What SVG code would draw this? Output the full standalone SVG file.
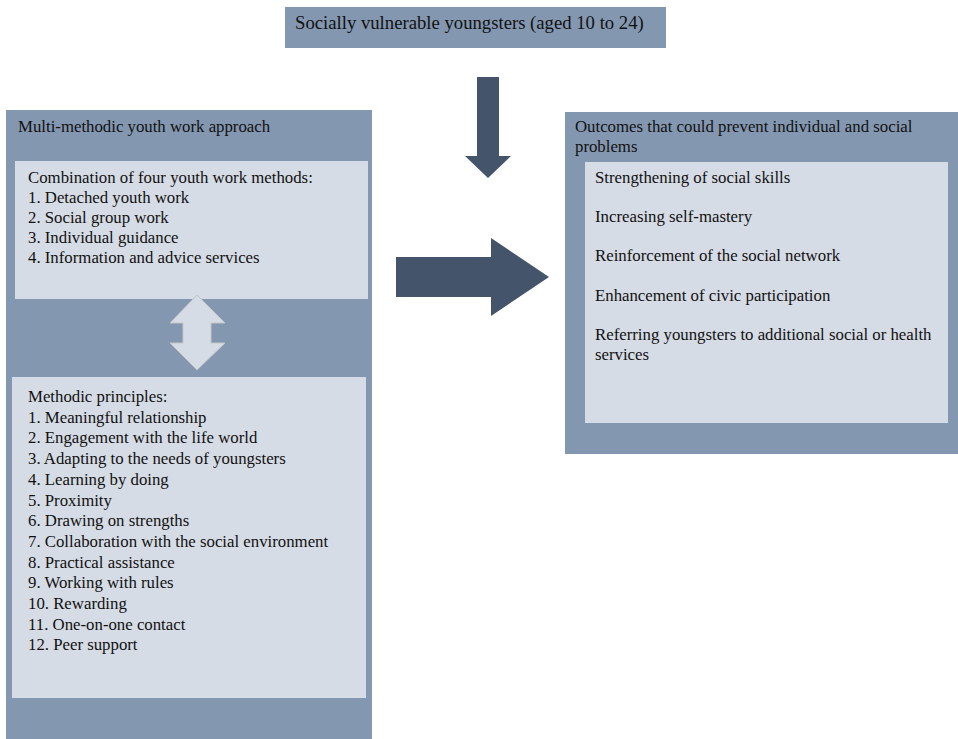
<svg xmlns="http://www.w3.org/2000/svg" width="958" height="739" viewBox="0 0 958 739">
<style>
.outer{fill:#8497b0;}
.inner{fill:#d6dce5;}
.arrow{fill:#44546a;}
text{font-family:"Liberation Serif","Times New Roman",serif;font-size:16.8px;fill:#111;}
text.title{font-size:18.7px;}
</style>
<rect width="958" height="739" fill="#fff"/>
<g id="youngsters">
<rect class="outer" x="285" y="7" width="381" height="41"/>
<text class="title" x="295" y="29">Socially vulnerable youngsters (aged 10 to 24)</text>
</g>
<g id="approach">
<rect class="outer" x="6" y="110" width="366" height="629"/>
<text x="18" y="132">Multi-methodic youth work approach</text>
</g>
<g id="methods">
<rect class="inner" x="15" y="161" width="353" height="138"/>
<text x="28" y="183">Combination of four youth work methods:</text>
<text x="28" y="203">1. Detached youth work</text>
<text x="28" y="223">2. Social group work</text>
<text x="28" y="243">3. Individual guidance</text>
<text x="28" y="263">4. Information and advice services</text>
</g>
<g id="principles">
<rect class="inner" x="12" y="377" width="354" height="321"/>
<text x="28" y="402">Methodic principles:</text>
<text x="28" y="422.7">1. Meaningful relationship</text>
<text x="28" y="443.4">2. Engagement with the life world</text>
<text x="28" y="464.1">3. Adapting to the needs of youngsters</text>
<text x="28" y="484.8">4. Learning by doing</text>
<text x="28" y="505.5">5. Proximity</text>
<text x="28" y="526.2">6. Drawing on strengths</text>
<text x="28" y="546.9">7. Collaboration with the social environment</text>
<text x="28" y="567.6">8. Practical assistance</text>
<text x="28" y="588.3">9. Working with rules</text>
<text x="28" y="609">10. Rewarding</text>
<text x="28" y="629.7">11. One-on-one contact</text>
<text x="28" y="650.4">12. Peer support</text>
</g>
<g id="outcomes">
<rect class="outer" x="565" y="112" width="393" height="342"/>
<text x="575" y="132">Outcomes that could prevent individual and social</text>
<text x="575" y="152">problems</text>
</g>
<g id="outcome-list">
<rect class="inner" x="585" y="162" width="363" height="261"/>
<text x="595" y="183">Strengthening of social skills</text>
<text x="595" y="222">Increasing self-mastery</text>
<text x="595" y="261">Reinforcement of the social network</text>
<text x="595" y="301">Enhancement of civic participation</text>
<text x="595" y="340">Referring youngsters to additional social or health</text>
<text x="595" y="360">services</text>
</g>
<g id="connectors">
<polygon class="inner" stroke="#c4c4c4" stroke-width="1" points="197,295 225,323 211,323 211,343 225,343 197,370 170,343 183,343 183,323 170,323"/>
<polygon class="arrow" points="477,77 499,77 499,156 511,156 488,178 465,156 477,156"/>
<polygon class="arrow" points="396,257 491,257 491,238 549,277 491,316 491,297 396,297"/>
</g>
</svg>
